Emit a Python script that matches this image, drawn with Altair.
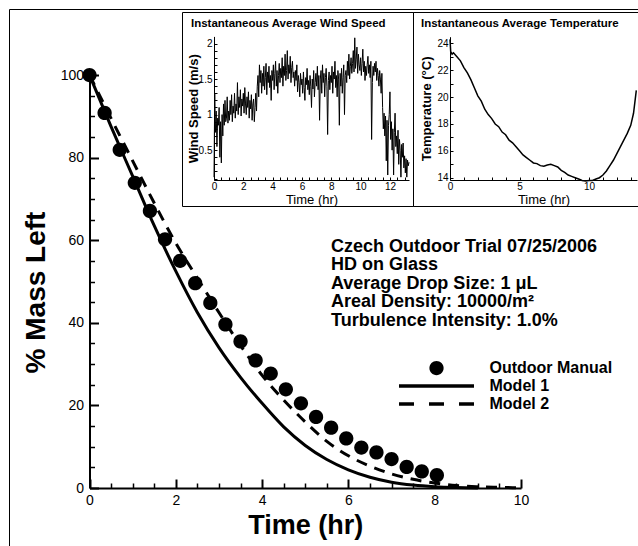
import altair as alt
import pandas as pd

FONT = "Liberation Sans"

# ---------------- main chart data ----------------
obs_time = [0, 0.35, 0.7, 1.05, 1.4, 1.75, 2.1, 2.45, 2.8, 3.15, 3.5, 3.85,
            4.2, 4.55, 4.9, 5.25, 5.6, 5.95, 6.3, 6.65, 7.0, 7.35, 7.7, 8.05]
obs_mass = [100, 90.8, 81.9, 73.9, 67.1, 60.2, 55.0, 49.6, 44.8, 39.6, 35.5, 30.9,
            27.7, 23.9, 20.5, 17.2, 14.6, 12.0, 9.8, 8.6, 7.0, 5.1, 4.0, 3.1]

model1_time = [0, 0.5, 1, 1.5, 2, 2.5, 3, 3.5, 4, 4.5, 5, 5.5, 6, 6.5, 7, 7.5, 8, 8.5, 9]
model1_mass = [100, 87.5, 75.5, 63.5, 52.5, 42.5, 34.0, 26.8, 20.5, 14.8, 10.3, 6.9,
               4.4, 2.6, 1.4, 0.7, 0.3, 0.1, 0.0]

model2_time = [0, 0.5, 1, 1.5, 2, 2.5, 3, 3.5, 4, 4.5, 5, 5.5, 6, 6.5, 7, 7.5, 8,
               8.5, 9, 9.5, 10]
model2_mass = [100, 89.5, 79.2, 69.0, 59.3, 50.8, 42.5, 34.5, 27.3, 21.3, 16.0, 11.3,
               7.8, 5.3, 3.4, 2.1, 1.2, 0.6, 0.3, 0.15, 0.05]

series_names = ["Outdoor Manual", "Model 1", "Model 2"]

x_major = [0, 2, 4, 6, 8, 10]
x_minor = [0.5, 1, 1.5, 2.5, 3, 3.5, 4.5, 5, 5.5, 6.5, 7, 7.5, 8.5, 9, 9.5]
y_major = [0, 20, 40, 60, 80, 100]
y_minor = [5, 10, 15, 25, 30, 35, 45, 50, 55, 65, 70, 75, 85, 90, 95]

annotation_lines = ["Czech Outdoor Trial 07/25/2006", "HD on Glass",
                    "Average Drop Size: 1 \u03bcL", "Areal Density: 10000/m\u00b2",
                    "Turbulence Intensity: 1.0%"]

# ---------------- inset 1: wind speed ----------------
wind_speed = [
    0.12, 1.30, 0.75, 1.05, 0.55, 0.95, 0.85, 1.10, 0.40, 0.90,
    0.32, 1.00, 0.70, 1.15, 0.85, 1.20, 0.90, 0.95, 1.25, 0.88,
    1.05, 0.92, 1.20, 1.00, 1.28, 0.90, 1.12, 1.02, 1.30, 0.95,
    1.15, 1.05, 1.45, 1.00, 1.25, 1.10, 1.35, 0.98, 1.22, 1.12,
    1.30, 1.02, 1.38, 1.15, 1.00, 1.25, 1.10, 1.32, 0.95, 1.20,
    1.08, 1.28, 0.92, 1.15, 1.22, 0.90, 1.10, 1.30, 1.05, 1.40,
    1.55, 1.25, 1.70, 1.45, 1.62, 1.30, 1.58, 1.40, 1.68, 1.35,
    1.52, 1.72, 1.28, 1.60, 1.45, 1.68, 1.38, 1.55, 1.20, 1.62,
    1.48, 1.70, 1.35, 1.58, 1.75, 1.40, 1.62, 1.30, 1.55, 1.72,
    1.45, 1.65, 1.52, 1.80, 1.40, 1.68, 1.55, 1.85, 1.48, 1.62,
    1.90, 1.50, 1.70, 1.58, 1.82, 1.45, 1.66, 1.75, 1.52, 1.60,
    1.40, 1.62, 1.48, 1.70, 1.32, 1.55, 1.45, 1.25, 1.58, 1.42,
    1.50, 1.30, 1.60, 1.38, 1.20, 1.52, 1.42, 1.65, 1.35, 1.48,
    1.28, 1.55, 1.40, 1.10, 1.50, 1.36, 1.62, 1.25, 1.45, 1.58,
    1.40, 1.68, 1.35, 1.55, 0.92, 1.50, 1.62, 1.30, 1.70, 1.45,
    1.58, 1.25, 1.52, 1.65, 1.40, 0.72, 1.48, 1.60, 1.35, 1.55,
    1.45, 1.68, 1.30, 1.60, 1.50, 1.75, 1.38, 1.55, 1.25, 1.62,
    1.50, 0.85, 1.58, 1.40, 1.65, 1.30, 1.52, 1.70, 1.00, 1.55,
    1.62, 1.45, 1.75, 1.55, 1.85, 1.50, 1.68, 1.80, 1.58, 1.72,
    1.90, 1.60, 2.08, 1.65, 1.78, 1.95, 1.58, 1.85, 1.70, 1.62,
    1.80, 1.55, 1.72, 1.92, 1.60, 1.75, 1.48, 1.68, 1.55, 1.70,
    1.82, 1.58, 1.70, 1.52, 1.75, 0.65, 1.45, 1.68, 1.55, 1.72,
    1.60, 1.75, 1.48, 1.65, 1.55, 1.40, 1.62, 1.50, 1.30, 1.58,
    1.10, 0.80, 1.02, 0.70, 0.98, 0.35, 0.92, 0.15, 0.85, 1.00,
    1.32, 0.65, 0.90, 0.50, 0.80, 0.15, 0.75, 1.02, 0.55, 0.70,
    0.45, 0.78, 0.30, 0.65, 0.50, 0.12, 0.58, 0.40, 0.60, 0.25,
    0.42, 0.18, 0.38, 0.12, 0.36, 0.28, 0.33,
]
wind_time = [round(0.05 * i, 2) for i in range(len(wind_speed))]
wind_x_labels = [0, 2, 4, 6, 8, 10, 12]
wind_x_ticks = [i * 0.5 for i in range(27)]
wind_y_labels = [0.5, 1, 1.5, 2]
wind_y_ticks = [round(0.1 * i, 1) for i in range(1, 21)]

# ---------------- inset 2: temperature ----------------
temp_time = [0, 0.05, 0.15, 0.25, 0.5, 0.75, 1.0, 1.25, 1.5, 1.75, 2.0, 2.25, 2.5,
             2.75, 3.0, 3.25, 3.5, 3.75, 4.0, 4.25, 4.5, 4.75, 5.0, 5.25, 5.5, 5.75,
             6.0, 6.25, 6.5, 6.75, 7.0, 7.25, 7.5, 7.75, 8.0, 8.25, 8.5, 8.75, 9.0,
             9.25, 9.5, 9.75, 10.0, 10.25, 10.5, 10.75, 11.0, 11.25, 11.5, 11.75,
             12.0, 12.25, 12.5, 12.75, 13.0, 13.2, 13.4]
temp_c = [24.3, 23.4, 23.2, 23.3, 23.0, 22.7, 22.2, 21.8, 21.3, 20.7, 20.1, 19.7, 19.1,
          18.7, 18.4, 18.0, 17.8, 17.4, 17.2, 16.8, 16.6, 16.3, 16.0, 15.7, 15.5, 15.3,
          15.1, 15.05, 14.9, 14.85, 14.95, 15.0, 14.9, 14.8, 14.55, 14.4, 14.2, 14.1,
          14.0, 13.9, 13.8, 13.75, 13.8, 13.8, 13.9, 14.0, 14.2, 14.5, 14.9, 15.3,
          15.8, 16.3, 16.8, 17.3, 17.9, 18.8, 20.5]
temp_x_labels = [0, 5, 10]
temp_x_ticks = list(range(0, 14))
temp_y_labels = [14, 16, 18, 20, 22, 24]
temp_y_ticks = list(range(14, 25))

wind_title = "Instantaneous Average Wind Speed"
temp_title = "Instantaneous Average Temperature"

# ---------------- tables ----------------
obs_df = pd.DataFrame({"time": obs_time, "mass": obs_mass, "series": series_names[0]})
m1_df = pd.DataFrame({"time": model1_time, "mass": model1_mass})
m2_df = pd.DataFrame({"time": model2_time, "mass": model2_mass})
wind_df = pd.DataFrame({"time": wind_time, "speed": wind_speed})
temp_df = pd.DataFrame({"time": temp_time, "temp": temp_c})
one = alt.Data(values=[{}])

W, H = 638, 546

# ---------------- scales ----------------
def xs_main():
    return alt.Scale(domain=[0, 10], range=[89.5, 521], nice=False, zero=False)

def ys_main():
    return alt.Scale(domain=[0, 100], range=[488, 75], nice=False, zero=False)

def xs_wind():
    return alt.Scale(domain=[0, 13.3], range=[214, 409], nice=False, zero=False)

def ys_wind():
    return alt.Scale(domain=[0.08, 2.1], range=[180, 36.4], nice=False, zero=False)

def xs_temp():
    return alt.Scale(domain=[0, 13.45], range=[450, 637], nice=False, zero=False)

def ys_temp():
    return alt.Scale(domain=[13.83, 24.5], range=[180, 36.7], nice=False, zero=False)

def tick_axis(orient, offset, values, size, width=1.5):
    return alt.Axis(orient=orient, offset=offset, values=values, tickSize=size,
                    tickWidth=width, tickColor="black", labels=False, domain=False,
                    grid=False, title=None)

lab = dict(labelFont=FONT, labelColor="black", grid=False, labelFlush=False,
           labelOverlap=False, domainColor="black", titleFont=FONT, titleColor="black")

# ---------------- frames ----------------
outer = alt.Chart(one).mark_rect(fillOpacity=0, stroke="black", strokeWidth=1).encode(
    x=alt.value(9.5), x2=alt.value(700), y=alt.value(9.5), y2=alt.value(700))
box1 = alt.Chart(one).mark_rect(fillOpacity=0, stroke="black", strokeWidth=1).encode(
    x=alt.value(182.5), x2=alt.value(413.5), y=alt.value(12.5), y2=alt.value(206.5))
box2 = alt.Chart(one).mark_rect(fillOpacity=0, stroke="black", strokeWidth=1).encode(
    x=alt.value(413.5), x2=alt.value(700), y=alt.value(12.5), y2=alt.value(206.5))

# ---------------- main chart ----------------
# symbol shapes (filled outlines, unit = half the symbol size)
circle_path = "M-0.95,0A0.95,0.95,0,1,0,0.95,0A0.95,0.95,0,1,0,-0.95,0Z"
line_path = "M-5,-0.23L5,-0.23L5,0.23L-5,0.23Z"
dash_path = ("M-5,-0.23L-3,-0.23L-3,0.23L-5,0.23Z"
             "M-1,-0.23L1,-0.23L1,0.23L-1,0.23Z"
             "M3,-0.23L5,-0.23L5,0.23L3,0.23Z")

points = alt.Chart(obs_df).mark_point(
    filled=True, size=225, opacity=1, color="black", strokeWidth=0
).encode(
    x=alt.X("time:Q", scale=xs_main(), axis=alt.Axis(
        orient="bottom", offset=-58, values=x_major, ticks=False, domainWidth=2,
        labelFontSize=14, labelPadding=5, title="Time (hr)", titleFontSize=27,
        titleFontWeight="bold", titleY=45.5, titleBaseline="alphabetic", **lab)),
    y=alt.Y("mass:Q", scale=ys_main(), axis=alt.Axis(
        orient="left", offset=-89.5, values=y_major, ticks=False, domainWidth=2,
        labelFontSize=14, labelPadding=6, title="% Mass Left", titleFontSize=28,
        titleFontWeight="bold", titleX=-45, titleY=292, titleBaseline="alphabetic",
        **lab)),
    shape=alt.Shape("series:N", scale=alt.Scale(domain=series_names,
                                                range=[circle_path, line_path, dash_path]),
                    legend=alt.Legend(orient="none", legendX=428.5, legendY=360, title=None,
                                      labelFont=FONT, labelFontSize=16,
                                      labelFontWeight="bold", labelColor="black",
                                      symbolSize=225, symbolStrokeWidth=0,
                                      symbolFillColor="black", symbolOpacity=1,
                                      labelOffset=45, rowPadding=2, padding=0)),
)

model1 = alt.Chart(m1_df).mark_line(color="black", strokeWidth=3, interpolate="monotone").encode(
    x=alt.X("time:Q", scale=xs_main(), axis=tick_axis("top", -488, x_major, 9, 2)),
    y=alt.Y("mass:Q", scale=ys_main(), axis=tick_axis("right", -548.5, y_major, 9, 2)),
)

model2 = alt.Chart(m2_df).mark_line(color="black", strokeWidth=3, strokeDash=[11, 8],
                                    interpolate="monotone").encode(
    x=alt.X("time:Q", scale=xs_main(), axis=tick_axis("top", -488, x_minor, 5)),
    y=alt.Y("mass:Q", scale=ys_main(), axis=tick_axis("right", -548.5, y_minor, 5)),
)

annotation = alt.Chart(one).mark_text(
    align="left", baseline="alphabetic", font=FONT, fontSize=18, fontWeight="bold",
    lineHeight=18.6, color="black"
).encode(x=alt.value(331), y=alt.value(251.5), text=alt.value(annotation_lines))

# ---------------- inset 1 ----------------
wind_line = alt.Chart(wind_df).mark_line(color="black", strokeWidth=1).encode(
    x=alt.X("time:Q", scale=xs_wind(), axis=alt.Axis(
        orient="bottom", offset=-366, values=wind_x_labels, ticks=False, domainWidth=1,
        labelFontSize=10, labelPadding=1, title="Time (hr)", titleFontSize=13,
        titleFontWeight="normal", titleY=23, titleBaseline="alphabetic", **lab)),
    y=alt.Y("speed:Q", scale=ys_wind(), axis=alt.Axis(
        orient="left", offset=-214, values=wind_y_labels, format="~g", ticks=False,
        domainWidth=1, labelFontSize=10, labelPadding=2, title="Wind Speed (m/s)",
        titleFontSize=13, titleFontWeight="bold", titleX=-17,
        titleBaseline="alphabetic", **lab)),
)
wind_ticks = alt.Chart(wind_df).mark_line(opacity=0).encode(
    x=alt.X("time:Q", scale=xs_wind(), axis=tick_axis("top", -180, wind_x_ticks, 3, 1)),
    y=alt.Y("speed:Q", scale=ys_wind(), axis=tick_axis("right", -424, wind_y_ticks, 3, 1)),
)
wind_head = alt.Chart(one).mark_text(
    align="left", baseline="alphabetic", font=FONT, fontSize=11.5, fontWeight="bold",
    color="black"
).encode(x=alt.value(191), y=alt.value(27), text=alt.value(wind_title))

# ---------------- inset 2 ----------------
temp_line = alt.Chart(temp_df).mark_line(color="black", strokeWidth=1.5).encode(
    x=alt.X("time:Q", scale=xs_temp(), axis=alt.Axis(
        orient="bottom", offset=-366, values=temp_x_labels, ticks=False, domainWidth=1,
        labelFontSize=10, labelPadding=1, title="Time (hr)", titleFontSize=13,
        titleFontWeight="normal", titleY=23, titleBaseline="alphabetic", **lab)),
    y=alt.Y("temp:Q", scale=ys_temp(), axis=alt.Axis(
        orient="left", offset=-450, values=temp_y_labels, ticks=False, domainWidth=1,
        labelFontSize=10, labelPadding=2, title="Temperature (\u00b0C)",
        titleFontSize=13, titleFontWeight="bold", titleX=-20,
        titleBaseline="alphabetic", **lab)),
)
temp_ticks = alt.Chart(temp_df).mark_line(opacity=0).encode(
    x=alt.X("time:Q", scale=xs_temp(), axis=tick_axis("top", -180, temp_x_ticks, 3, 1)),
    y=alt.Y("temp:Q", scale=ys_temp(), axis=tick_axis("right", -188, temp_y_ticks, 3, 1)),
)
temp_head = alt.Chart(one).mark_text(
    align="left", baseline="alphabetic", font=FONT, fontSize=11.5, fontWeight="bold",
    color="black"
).encode(x=alt.value(421), y=alt.value(27), text=alt.value(temp_title))

chart = alt.layer(
    outer, box1, box2, model1, model2, points, annotation,
    wind_line, wind_ticks, wind_head, temp_line, temp_ticks, temp_head,
).resolve_scale(
    x="independent", y="independent", shape="independent"
).properties(
    width=W, height=H, padding=0, autosize=alt.AutoSizeParams(type="none"),
    background="white",
).configure_view(strokeWidth=0)

chart.save("out.html", embed_options={"renderer": "svg", "actions": False})
